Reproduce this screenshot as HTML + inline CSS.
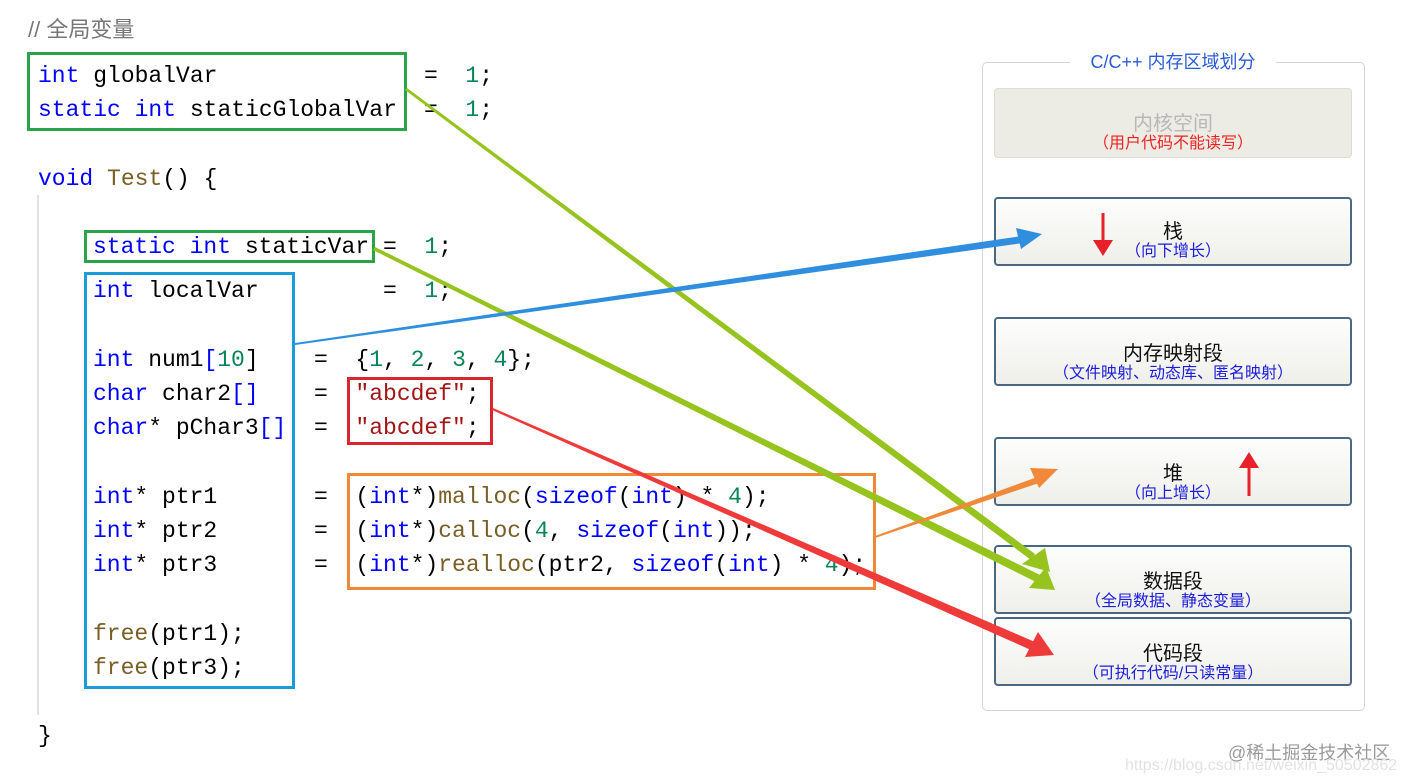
<!DOCTYPE html>
<html><head><meta charset="utf-8"><style>
body{margin:0;width:1408px;height:784px;background:#fff;position:relative;overflow:hidden;font-family:"Liberation Sans","Noto Sans CJK SC",sans-serif}
.c{position:absolute;font-family:"Liberation Mono",monospace;font-size:23px;line-height:23px;white-space:pre;color:#000}
.k{color:#0000ff}.n{color:#098658}.s{color:#a31515}.f{color:#795e26}
.bx{position:absolute;box-sizing:border-box}
.seg{position:absolute;left:994px;width:358px;box-sizing:border-box;border:2px solid #4a6784;border-radius:4px;background:linear-gradient(#fdfdfc,#efefea);text-align:center;font-family:"Liberation Sans","Noto Sans CJK SC",sans-serif}
.m{font-size:20px;color:#111;line-height:22px}
.sub{font-size:16px;color:#1c1cdc;line-height:18px}
</style></head><body>
<div style="position:absolute;left:28px;top:12px;font-size:22px;color:#777">// 全局变量</div>
<div style="position:absolute;left:37px;top:195px;width:2px;height:520px;background:#e2e2e2"></div>

<div class="c" style="left:38px;top:65px"><span class="k">int</span> globalVar</div>
<div class="c" style="left:424px;top:65px">=  <span class="n">1</span>;</div>
<div class="c" style="left:38px;top:99px"><span class="k">static int</span> staticGlobalVar</div>
<div class="c" style="left:424px;top:99px">=  <span class="n">1</span>;</div>
<div class="c" style="left:38px;top:168px"><span class="k">void</span> <span class="f">Test</span>() {</div>
<div class="c" style="left:93px;top:236px"><span class="k">static int</span> staticVar</div>
<div class="c" style="left:383px;top:236px">=  <span class="n">1</span>;</div>
<div class="c" style="left:93px;top:280px"><span class="k">int</span> localVar</div>
<div class="c" style="left:383px;top:280px">=  <span class="n">1</span>;</div>
<div class="c" style="left:93px;top:349px"><span class="k">int</span> num1<span class="k">[</span><span class="n">10</span>]</div>
<div class="c" style="left:314px;top:349px">=  {<span class="n">1</span>, <span class="n">2</span>, <span class="n">3</span>, <span class="n">4</span>};</div>
<div class="c" style="left:93px;top:383px"><span class="k">char</span> char2<span class="k">[]</span></div>
<div class="c" style="left:314px;top:383px">=  <span class="s">"abcdef"</span>;</div>
<div class="c" style="left:93px;top:417px"><span class="k">char</span>* pChar3<span class="k">[]</span></div>
<div class="c" style="left:314px;top:417px">=  <span class="s">"abcdef"</span>;</div>
<div class="c" style="left:93px;top:486px"><span class="k">int</span>* ptr1</div>
<div class="c" style="left:314px;top:486px">=  (<span class="k">int</span>*)<span class="f">malloc</span>(<span class="k">sizeof</span>(<span class="k">int</span>) * <span class="n">4</span>);</div>
<div class="c" style="left:93px;top:520px"><span class="k">int</span>* ptr2</div>
<div class="c" style="left:314px;top:520px">=  (<span class="k">int</span>*)<span class="f">calloc</span>(<span class="n">4</span>, <span class="k">sizeof</span>(<span class="k">int</span>));</div>
<div class="c" style="left:93px;top:554px"><span class="k">int</span>* ptr3</div>
<div class="c" style="left:314px;top:554px">=  (<span class="k">int</span>*)<span class="f">realloc</span>(ptr2, <span class="k">sizeof</span>(<span class="k">int</span>) * <span class="n">4</span>);</div>
<div class="c" style="left:93px;top:623px"><span class="f">free</span>(ptr1);</div>
<div class="c" style="left:93px;top:657px"><span class="f">free</span>(ptr3);</div>
<div class="c" style="left:38px;top:725px">}</div>

<div class="bx" style="left:27px;top:52px;width:380px;height:79px;border:3px solid #2ba34a"></div>
<div class="bx" style="left:84px;top:230px;width:291px;height:33px;border:3px solid #2ba34a"></div>
<div class="bx" style="left:84px;top:272px;width:211px;height:417px;border:3px solid #1b9bd7"></div>
<div class="bx" style="left:347px;top:377px;width:146px;height:68px;border:3px solid #d8262f"></div>
<div class="bx" style="left:347px;top:473px;width:529px;height:117px;border:3px solid #f0883a"></div>

<!-- right panel -->
<div class="bx" style="left:982px;top:62px;width:383px;height:649px;border:1.5px solid #d4d4d4;border-radius:5px"></div>
<div style="position:absolute;left:1070px;top:50px;width:206px;text-align:center;background:#fff;color:#2a5bd7;font-size:18px;line-height:24px">C/C++ 内存区域划分</div>
<div class="seg" style="top:88px;height:70px;border:1.5px solid #dcdbd4;background:#ecebe4;padding-top:24px"><div class="m" style="color:#b8b8b8">内核空间</div><div class="sub" style="color:#ee2222">（用户代码不能读写）</div></div>
<div class="seg" style="top:197px;height:69px;padding-top:22px"><div class="m">栈</div><div class="sub">（向下增长）</div></div>
<div class="seg" style="top:317px;height:69px;padding-top:24px"><div class="m">内存映射段</div><div class="sub">（文件映射、动态库、匿名映射）</div></div>
<div class="seg" style="top:437px;height:69px;padding-top:24px"><div class="m">堆</div><div class="sub">（向上增长）</div></div>
<div class="seg" style="top:545px;height:69px;padding-top:24px"><div class="m">数据段</div><div class="sub">（全局数据、静态变量）</div></div>
<div class="seg" style="top:617px;height:69px;padding-top:24px"><div class="m">代码段</div><div class="sub">（可执行代码/只读常量）</div></div>
<div style="position:absolute;left:1228px;top:739px;font-size:18px;color:#9a9a9a">@稀土掘金技术社区</div>
<div style="position:absolute;left:1125px;top:757px;font-size:16px;color:#e2e2e2">https://blog.csdn.net/weixin_50502862</div>

<svg width="1408" height="784" style="position:absolute;left:0;top:0">
<!-- red arrows in panel -->
<line x1="1103" y1="213" x2="1103" y2="252" stroke="#e8202a" stroke-width="3"/>
<polygon points="1093,240 1113,240 1103,256" fill="#e8202a"/>
<line x1="1249" y1="496" x2="1249" y2="458" stroke="#e8202a" stroke-width="3"/>
<polygon points="1239,468 1259,468 1249,452" fill="#e8202a"/>
<!-- green 1 -->
<polygon points="405,90 407,88 1035,554 1031,560" fill="#96c31e"/>
<polygon points="1022,564 1045,548 1050,572" fill="#96c31e"/>
<!-- green 2 -->
<polygon points="373,250 375,247 1040,575 1036,582" fill="#96c31e"/>
<polygon points="1029,588 1046,567 1055,590" fill="#96c31e"/>
<!-- blue -->
<polygon points="295,345 295,343 1022,236 1023,243" fill="#2f8fde"/>
<polygon points="1016,228 1042,234 1021,249" fill="#2f8fde"/>
<!-- orange -->
<polygon points="875,538 875,536 1040,476 1042,482" fill="#f08a3a"/>
<polygon points="1030,468 1058,469 1039,488" fill="#f08a3a"/>
<!-- red -->
<polygon points="492,410 493,408 1035,642 1031,650" fill="#ef3a3a"/>
<polygon points="1025,657 1038,632 1054,655" fill="#ef3a3a"/>
</svg>
</body></html>
